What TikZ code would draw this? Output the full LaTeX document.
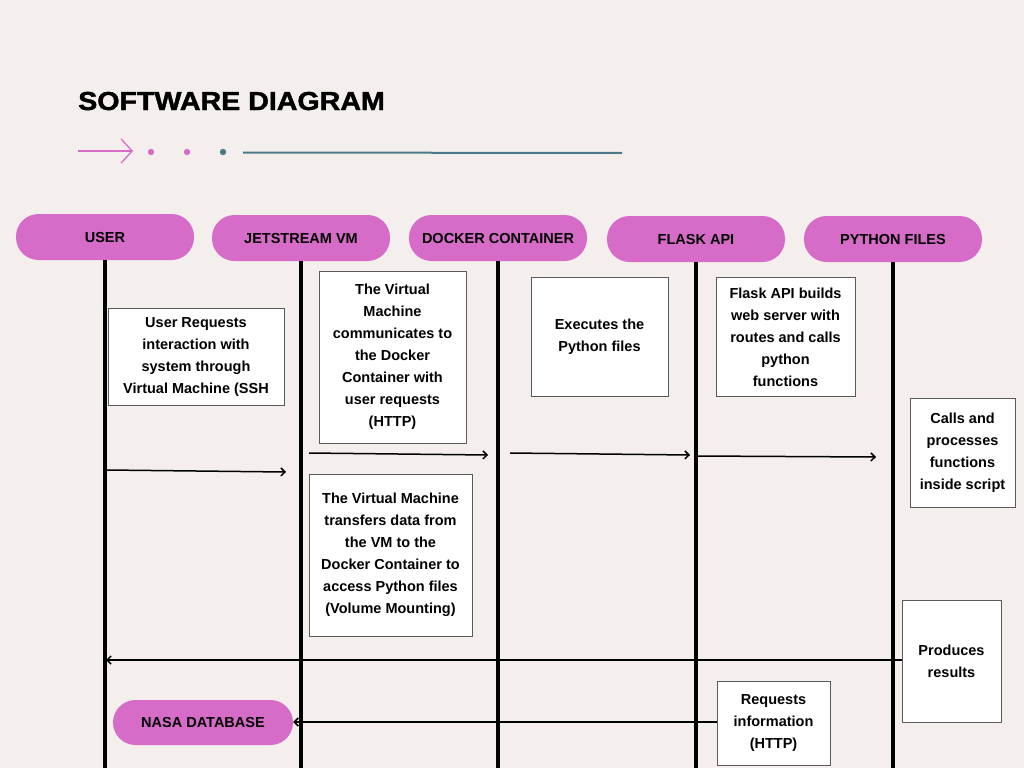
\documentclass[tikz,border=0pt]{standalone}
\usepackage{fontspec}
\setmainfont{Liberation Sans}
\newfontfamily\titlefont[FakeBold=1.5]{Liberation Sans Bold}
\usetikzlibrary{arrows.meta}
\definecolor{bgpaper}{RGB}{244,239,236}
\definecolor{pillpink}{RGB}{214,107,200}
\definecolor{lineteal}{RGB}{74,122,136}
\definecolor{boxgray}{RGB}{90,90,90}
\tikzset{%
	every actor/.style={
		rectangle,
		rounded corners=22.5pt,
		fill=pillpink,
		minimum width=178pt,
		minimum height=46pt,
		text height=10.5pt,
		text depth=0pt,
		font=\fontsize{14.5}{17}\selectfont\bfseries
	},
	note/.style={
		rectangle,
		draw=boxgray,
		line width=0.8pt,
		fill=white,
		align=center,
		inner sep=2pt,
		font=\fontsize{14.5}{22}\selectfont\bfseries
	},
	lifeline/.style={
		line width=3.2pt,
		black
	},
	message/.style={
		->,
		line width=1.5pt
	},
}

\begin{document}
\begin{tikzpicture}[x=1pt, y=-1pt, >={Straight Barb[length=4pt,width=8pt]}]
	
	\useasboundingbox (0,0) rectangle (1024,768);
	\fill [bgpaper] (0,0) rectangle (1024,768);
	
	% title and rule
	\node [anchor=base west, inner sep=0, font=\fontsize{26}{30}\titlefont, xscale=1.1] (title) at (78,110) {SOFTWARE DIAGRAM};
	\coordinate (rule-start) at (78,151);
	\coordinate (rule-tip) at (133,151);
	\draw [pillpink, line width=1.3pt, -{Straight Barb[length=11pt,width=24pt]}] (rule-start) -- (rule-tip);
	\foreach \x/\c in {151/pillpink, 187/pillpink, 223/lineteal}
	\fill [\c] (\x,152) circle (3.2);
	\coordinate (teal-a) at (243,152.5);
	\coordinate (teal-b) at (622,153);
	\draw [lineteal, line width=2pt] (teal-a) -- (teal-b);
	
	% actors and lifelines
	\foreach \n/\l/\x/\y in {user/USER/105/237, vm/JETSTREAM VM/301/238, docker/DOCKER CONTAINER/498/238, flask/FLASK API/696/239, python/PYTHON FILES/893/239}
	\node [every actor/.try] (\n) at (\x,\y) {\l};
	
	\foreach \n in {user, vm, docker, flask, python}
	\draw [lifeline] (\n.south) -- (\n.south |- 0,768);
	
	% notes
	\node [note, minimum width=176pt, minimum height=97pt] (n-ssh) at (196,357)
	{User Requests\\ interaction with\\ system through\\ Virtual Machine (SSH};
	\node [note, minimum width=147pt, minimum height=172pt] (n-http) at (392.5,357)
	{The Virtual\\ Machine\\ communicates to\\ the Docker\\ Container with\\ user requests\\ (HTTP)};
	\node [note, minimum width=137pt, minimum height=119pt] (n-exec) at (599.5,337)
	{Executes the\\ Python files};
	\node [note, minimum width=139pt, minimum height=119pt] (n-flask) at (785.5,337)
	{Flask API builds\\ web server with\\ routes and calls\\ python\\ functions};
	\node [note, minimum width=105pt, minimum height=109pt] (n-calls) at (962.5,453)
	{Calls and\\ processes\\ functions\\ inside script};
	\node [note, minimum width=163pt, minimum height=162pt] (n-mount) at (390.5,555)
	{The Virtual Machine\\ transfers data from\\ the VM to the\\ Docker Container to\\ access Python files\\ (Volume Mounting)};
	\node [note, minimum width=99pt, minimum height=122pt] (n-results) at (951.5,661)
	{Produces\\ results};
	\node [note, minimum width=113pt, minimum height=84pt] (n-request) at (773.5,723)
	{Requests\\ information\\ (HTTP)};
	
	\node [every actor/.try, minimum width=180pt, minimum height=45pt] (nasa) at (203,722.5) {NASA DATABASE};
	
	% messages
	\draw [message] ([xshift=2pt]user.south |- 0,470) -- ([xshift=-15pt]vm.south |- 0,472);
	\draw [message] ([xshift=8pt]vm.south |- 0,453) -- ([xshift=-10pt]docker.south |- 0,455);
	\draw [message] ([xshift=12pt]docker.south |- 0,453) -- ([xshift=-6pt]flask.south |- 0,455);
	\draw [message] ([xshift=1pt]flask.south |- 0,456) -- ([xshift=-17pt]python.south |- 0,457);
	\draw [message] ([yshift=1pt]n-results.west) -- ([xshift=1pt]user.south |- 0,660);
	\draw [message] ([yshift=1pt]n-request.west) -- (nasa.east |- 0,722);
	
\end{tikzpicture}
\end{document}
